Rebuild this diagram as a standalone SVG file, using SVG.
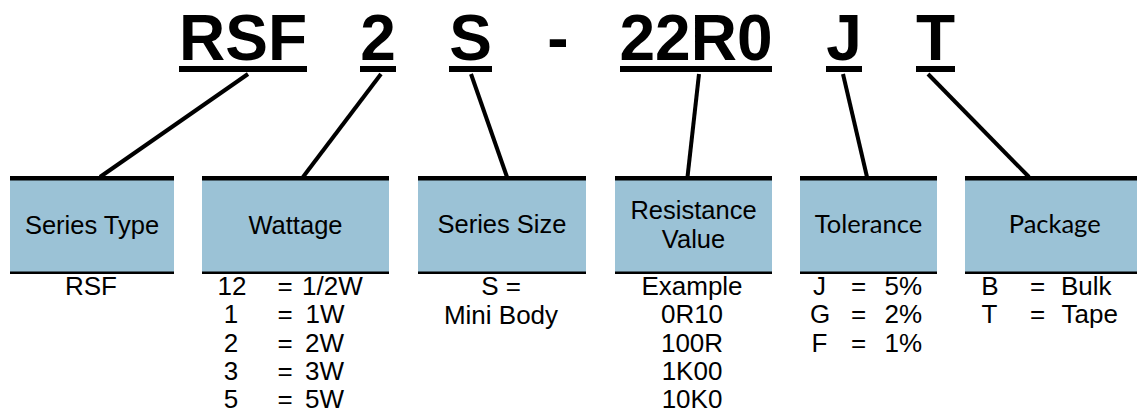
<svg xmlns="http://www.w3.org/2000/svg" width="1138" height="415" viewBox="0 0 1138 415">
<style>
.title{font-family:"Liberation Sans",Arial,sans-serif;font-weight:bold;font-size:64px;fill:#000;text-anchor:middle}
.ul{fill:#000}
.fill{fill:#9bc2d6}
.bar{fill:#000}
.hd{font-family:"Liberation Sans",Arial,sans-serif;font-size:25.5px;fill:#000;text-anchor:middle}
.hd2{font-family:Lato,"Liberation Sans",sans-serif;font-size:25.5px;fill:#000;text-anchor:middle}
.li{font-family:"Liberation Sans",Arial,sans-serif;font-size:26px;fill:#000}
.m{text-anchor:middle}
.e{text-anchor:end}
.conn line{stroke:#000;stroke-width:4}
</style>
<rect width="1138" height="415" fill="#fff"/>
<g id="code">
<text class="title" x="243" y="60">RSF</text>
<rect class="ul" x="179" y="66" width="128" height="6"/>
<text class="title" x="378" y="60">2</text>
<rect class="ul" x="360" y="66" width="36" height="6"/>
<text class="title" x="470.5" y="60">S</text>
<rect class="ul" x="449" y="66" width="43" height="6"/>
<text class="title" x="558" y="60">-</text>
<text class="title" x="696" y="60">22R0</text>
<rect class="ul" x="620" y="66" width="152" height="6"/>
<text class="title" x="844" y="60">J</text>
<rect class="ul" x="826" y="66" width="36" height="6"/>
<text class="title" x="935.5" y="60">T</text>
<rect class="ul" x="916" y="66" width="39" height="6"/>
</g>
<g id="connectors" class="conn">
<line x1="248" y1="74" x2="100" y2="177"/>
<line x1="381" y1="74" x2="303" y2="177"/>
<line x1="471" y1="74" x2="507" y2="177"/>
<line x1="699" y1="74" x2="687.5" y2="177"/>
<line x1="843" y1="74" x2="867" y2="177"/>
<line x1="928" y1="74" x2="1029" y2="177"/>
</g>
<g id="series-type">
<rect class="fill" x="10" y="180" width="164" height="92"/>
<rect class="bar" x="10" y="176" width="164" height="4.5"/>
<rect class="bar" x="10" y="271.5" width="164" height="2.5"/>
<text class="hd" x="92" y="234">Series Type</text>
<text class="li m" x="91" y="295">RSF</text>
</g>
<g id="wattage">
<rect class="fill" x="202" y="180" width="187" height="92"/>
<rect class="bar" x="202" y="176" width="187" height="4.5"/>
<rect class="bar" x="202" y="271.5" width="187" height="2.5"/>
<text class="hd" x="295.5" y="233.5">Wattage</text>
<text class="li m" x="232" y="295">12</text>
<text class="li m" x="231" y="323.3">1</text>
<text class="li m" x="231" y="351.6">2</text>
<text class="li m" x="231" y="379.9">3</text>
<text class="li m" x="231" y="408.2">5</text>
<text class="li m" x="285" y="295">=</text>
<text class="li m" x="285" y="323.3">=</text>
<text class="li m" x="285" y="351.6">=</text>
<text class="li m" x="285" y="379.9">=</text>
<text class="li m" x="285" y="408.2">=</text>
<text class="li" x="302" y="295">1/2W</text>
<text class="li" x="305.5" y="323.3">1W</text>
<text class="li" x="305" y="351.6">2W</text>
<text class="li" x="305" y="379.9">3W</text>
<text class="li" x="305" y="408.2">5W</text>
</g>
<g id="series-size">
<rect class="fill" x="418" y="180" width="168" height="92"/>
<rect class="bar" x="418" y="176" width="168" height="4.5"/>
<rect class="bar" x="418" y="271.5" width="168" height="2.5"/>
<text class="hd" x="502" y="233">Series Size</text>
<text class="li m" x="501" y="295">S =</text>
<text class="li m" x="501" y="324">Mini Body</text>
</g>
<g id="resistance-value">
<rect class="fill" x="615" y="180" width="157" height="92"/>
<rect class="bar" x="615" y="176" width="157" height="4.5"/>
<rect class="bar" x="615" y="271.5" width="157" height="2.5"/>
<text class="hd" x="693.5" y="219.3">Resistance</text>
<text class="hd" x="693.5" y="247.7">Value</text>
<text class="li m" x="692" y="295">Example</text>
<text class="li m" x="692" y="323.3">0R10</text>
<text class="li m" x="692" y="351.6">100R</text>
<text class="li m" x="692" y="379.9">1K00</text>
<text class="li m" x="692" y="408.2">10K0</text>
</g>
<g id="tolerance">
<rect class="fill" x="800" y="180" width="137" height="92"/>
<rect class="bar" x="800" y="176" width="137" height="4.5"/>
<rect class="bar" x="800" y="271.5" width="137" height="2.5"/>
<text class="hd2" x="868.5" y="232.7">Tolerance</text>
<text class="li m" x="819.5" y="295">J</text>
<text class="li m" x="820" y="323.3">G</text>
<text class="li m" x="819.5" y="351.6">F</text>
<text class="li m" x="858.5" y="295">=</text>
<text class="li m" x="858.5" y="323.3">=</text>
<text class="li m" x="858.5" y="351.6">=</text>
<text class="li e" x="922" y="295">5%</text>
<text class="li e" x="922" y="323.3">2%</text>
<text class="li e" x="922" y="351.6">1%</text>
</g>
<g id="package">
<rect class="fill" x="965" y="180" width="172" height="92"/>
<rect class="bar" x="965" y="176" width="172" height="4.5"/>
<rect class="bar" x="965" y="271.5" width="172" height="2.5"/>
<text class="hd2" x="1054.7" y="232.7">Package</text>
<text class="li m" x="990" y="295">B</text>
<text class="li m" x="989.5" y="323.3">T</text>
<text class="li m" x="1037.5" y="295">=</text>
<text class="li m" x="1037.5" y="323.3">=</text>
<text class="li" x="1061" y="295">Bulk</text>
<text class="li" x="1061.5" y="323.3">Tape</text>
</g>
</svg>
